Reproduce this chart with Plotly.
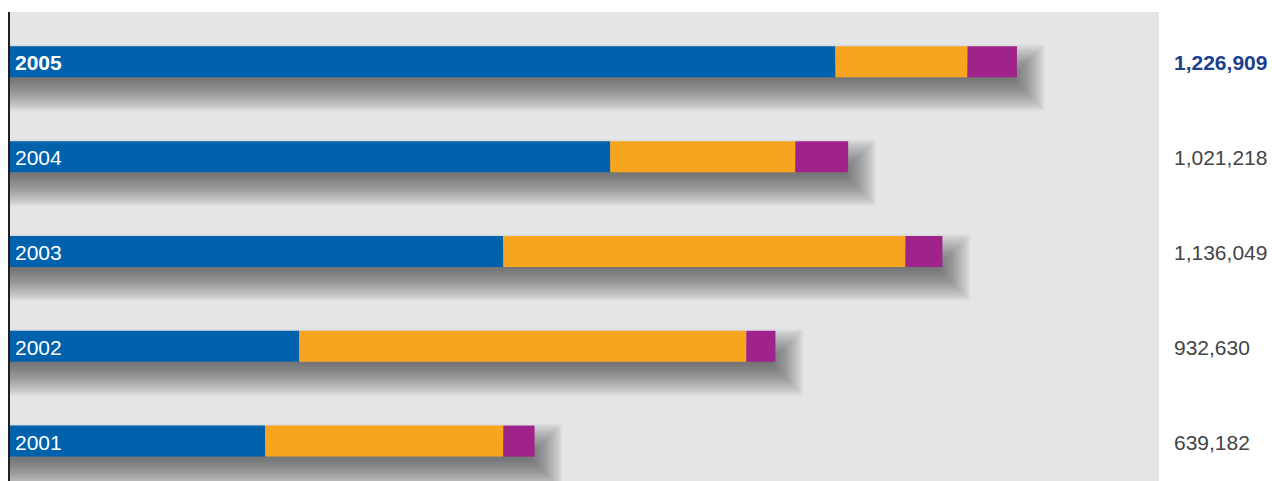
import plotly.graph_objects as go

years = [2001, 2002, 2003, 2004, 2005]
blue_vals = [310900, 352300, 601000, 731400, 1005700]
orange_vals = [290100, 544900, 490000, 225500, 160900]
purple_vals = [38182, 35430, 45049, 64318, 60309]
year_labels = ["2001", "2002", "2003", "2004", "<b>2005</b>"]

totals = [b + o + p for b, o, p in zip(blue_vals, orange_vals, purple_vals)]
total_labels = [f"{t:,}" for t in totals]
total_labels[-1] = f"<b>{totals[-1]:,}</b>"

C_BLUE = "#0061ad"
C_ORANGE = "#f7a51e"
C_PURPLE = "#a0228b"

W, H = 1272, 481
ML, MR, MT, MB = 10, 113, 12, 0
XMAX = 1400000
YMIN, YMAX = 2000.579, 2005.526
plot_w = W - ML - MR
plot_h = H - MT - MB
ux = XMAX / plot_w
uy = (YMAX - YMIN) / plot_h
BAR_PX = 31
bw = BAR_PX * uy

fig = go.Figure()

# soft drop shadows (many layered translucent bars)
N = 40
for k in range(N):
    b = -13 + k * 0.8
    fig.add_trace(go.Bar(
        y=[yv - 16 * uy for yv in years],
        x=[t + (10 + b) * ux for t in totals],
        orientation="h",
        width=(BAR_PX + 2 * b) * uy,
        marker=dict(color="rgba(30,30,34,0.018)", line=dict(width=0)),
        hoverinfo="skip", showlegend=False,
    ))

base_o = blue_vals
base_p = [b + o for b, o in zip(blue_vals, orange_vals)]
fig.add_trace(go.Bar(y=years, x=blue_vals, base=[0] * 5, orientation="h", width=bw,
                     marker=dict(color=C_BLUE, line=dict(width=0)), showlegend=False))
fig.add_trace(go.Bar(y=years, x=orange_vals, base=base_o, orientation="h", width=bw,
                     marker=dict(color=C_ORANGE, line=dict(width=0)), showlegend=False))
fig.add_trace(go.Bar(y=years, x=purple_vals, base=base_p, orientation="h", width=bw,
                     marker=dict(color=C_PURPLE, line=dict(width=0)), showlegend=False))

annotations = []
for yv, lab in zip(years, year_labels):
    annotations.append(dict(x=0, y=yv, xref="x", yref="y", text=lab, showarrow=False,
                            xanchor="left", xshift=3, yshift=-1,
                            font=dict(family="Liberation Sans, Arial, sans-serif", size=21, color="white")))
for i, (yv, lab) in enumerate(zip(years, total_labels)):
    col = "#1c3f8e" if i == len(years) - 1 else "#444444"
    annotations.append(dict(x=1, y=yv, xref="paper", yref="y", text=lab, showarrow=False,
                            xanchor="left", xshift=13, yshift=-1,
                            font=dict(family="Liberation Sans, Arial, sans-serif", size=21, color=col)))

fig.update_layout(
    width=W, height=H,
    margin=dict(l=ML, r=MR, t=MT, b=MB, pad=0),
    barmode="overlay",
    paper_bgcolor="white",
    plot_bgcolor="#e4e5e7",
    annotations=annotations,
    xaxis=dict(range=[0, XMAX], showgrid=False, zeroline=False, showticklabels=False,
               ticks="", showline=False, fixedrange=True),
    yaxis=dict(range=[YMIN, YMAX], showgrid=False, zeroline=False, showticklabels=False,
               ticks="", showline=True, linecolor="#231f20", linewidth=2, fixedrange=True),
)

fig.write_html("out.html", config={"displayModeBar": False},
               post_script="document.body.style.margin='0';document.body.style.overflow='hidden';")
